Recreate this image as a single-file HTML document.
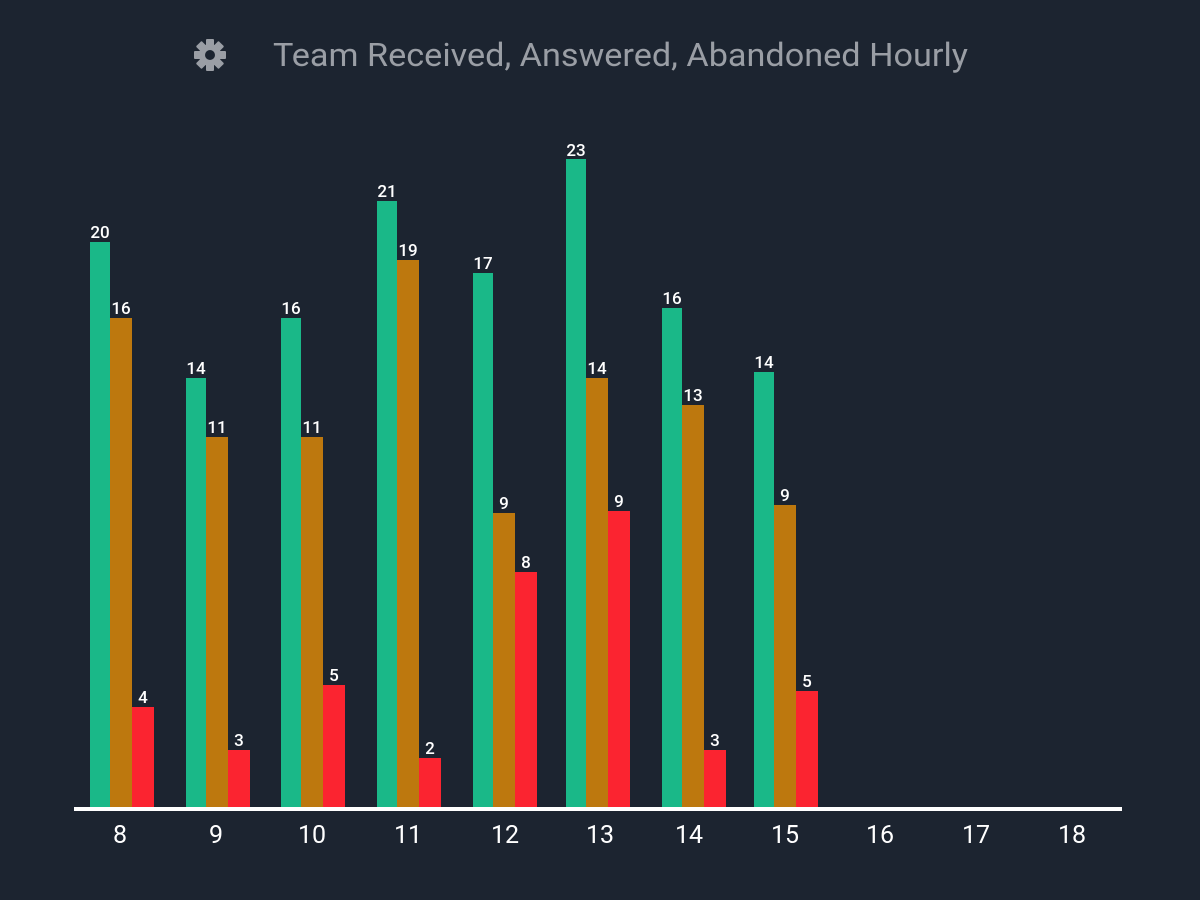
<!DOCTYPE html>
<html><head><style>
body{margin:0;background:#1c2430;}
svg{display:block}
</style></head><body>
<svg width="1200" height="900" xmlns="http://www.w3.org/2000/svg" font-family="Roboto, 'Liberation Sans', sans-serif">
<rect width="1200" height="900" fill="#1c2430"/>
<g fill="#9a9ea5" transform="translate(210,55)">
<circle r="11"/>
<g><rect x="-4" y="-16" width="8" height="32" rx="1"/><rect x="-4" y="-16" width="8" height="32" rx="1" transform="rotate(45)"/><rect x="-4" y="-16" width="8" height="32" rx="1" transform="rotate(90)"/><rect x="-4" y="-16" width="8" height="32" rx="1" transform="rotate(135)"/></g>
<circle r="5" fill="#1c2430"/>
</g>
<text x="273" y="66" font-size="32" fill="#9a9ea5" textLength="695" lengthAdjust="spacingAndGlyphs">Team Received, Answered, Abandoned Hourly</text>
<rect x="74" y="807" width="1048" height="4" fill="#ffffff"/>
<g font-size="25" fill="#ffffff" text-anchor="middle">
<text x="120" y="843">8</text><text x="216" y="843">9</text><text x="312" y="843">10</text><text x="408" y="843">11</text><text x="505" y="843">12</text><text x="600" y="843">13</text><text x="689" y="843">14</text><text x="785" y="843">15</text><text x="880" y="843">16</text><text x="976" y="843">17</text><text x="1072" y="843">18</text>
</g>
<g font-size="17" font-weight="500" fill="#ffffff" text-anchor="middle">
<rect x="90" y="242" width="20" height="565" fill="#1ab888"/><rect x="110" y="318" width="22" height="489" fill="#bd780e"/><rect x="132" y="707" width="22" height="100" fill="#fb2430"/>
<text x="100" y="238">20</text><text x="121" y="314">16</text><text x="143" y="703">4</text>
<rect x="186" y="378" width="20" height="429" fill="#1ab888"/><rect x="206" y="437" width="22" height="370" fill="#bd780e"/><rect x="228" y="750" width="22" height="57" fill="#fb2430"/>
<text x="196" y="374">14</text><text x="217" y="433">11</text><text x="239" y="746">3</text>
<rect x="281" y="318" width="20" height="489" fill="#1ab888"/><rect x="301" y="437" width="22" height="370" fill="#bd780e"/><rect x="323" y="685" width="22" height="122" fill="#fb2430"/>
<text x="291" y="314">16</text><text x="312" y="433">11</text><text x="334" y="681">5</text>
<rect x="377" y="201" width="20" height="606" fill="#1ab888"/><rect x="397" y="260" width="22" height="547" fill="#bd780e"/><rect x="419" y="758" width="22" height="49" fill="#fb2430"/>
<text x="387" y="197">21</text><text x="408" y="256">19</text><text x="430" y="754">2</text>
<rect x="473" y="273" width="20" height="534" fill="#1ab888"/><rect x="493" y="513" width="22" height="294" fill="#bd780e"/><rect x="515" y="572" width="22" height="235" fill="#fb2430"/>
<text x="483" y="269">17</text><text x="504" y="509">9</text><text x="526" y="568">8</text>
<rect x="566" y="159" width="20" height="648" fill="#1ab888"/><rect x="586" y="378" width="22" height="429" fill="#bd780e"/><rect x="608" y="511" width="22" height="296" fill="#fb2430"/>
<text x="576" y="156">23</text><text x="597" y="374">14</text><text x="619" y="507">9</text>
<rect x="662" y="308" width="20" height="499" fill="#1ab888"/><rect x="682" y="405" width="22" height="402" fill="#bd780e"/><rect x="704" y="750" width="22" height="57" fill="#fb2430"/>
<text x="672" y="304">16</text><text x="693" y="401">13</text><text x="715" y="746">3</text>
<rect x="754" y="372" width="20" height="435" fill="#1ab888"/><rect x="774" y="505" width="22" height="302" fill="#bd780e"/><rect x="796" y="691" width="22" height="116" fill="#fb2430"/>
<text x="764" y="368">14</text><text x="785" y="501">9</text><text x="807" y="687">5</text>
</g>
</svg>
</body></html>
